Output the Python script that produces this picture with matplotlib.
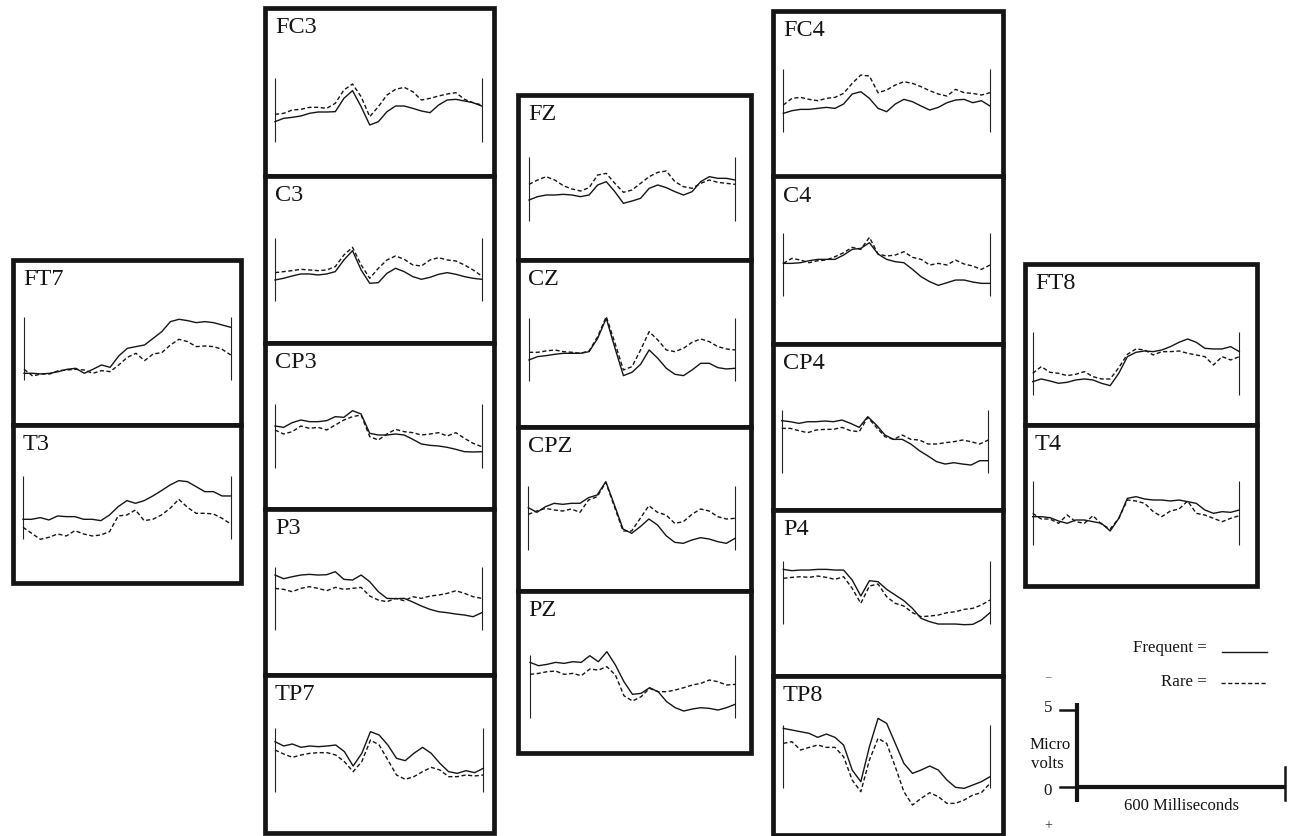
import matplotlib
matplotlib.use("Agg")
import matplotlib.pyplot as plt
from matplotlib.patches import Rectangle

# ---------------- data (µV, negative plotted upward => stored as "up" values) -------------
time_ms = list(range(0, 625, 25))

FT7_frequent = [-1.50, -1.50, -1.54, -1.50, -1.40, -1.26, -1.20, -1.50, -1.26, -1.00, -1.14, -0.46, 0.00, 0.10, 0.20, 0.60, 1.00, 1.60, 1.74, 1.66, 1.54, 1.60, 1.54, 1.40, 1.26]
FT7_rare     = [-1.26, -1.66, -1.54, -1.54, -1.34, -1.30, -1.26, -1.30, -1.50, -1.34, -1.40, -1.00, -0.54, -0.30, -0.74, -0.34, -0.26, 0.20, 0.54, 0.40, 0.10, 0.14, 0.10, -0.06, -0.40]
T3_frequent  = [-0.72, -0.72, -0.62, -0.76, -0.52, -0.56, -0.56, -0.72, -0.72, -0.80, -0.46, 0.04, 0.40, 0.24, 0.40, 0.68, 1.00, 1.34, 1.60, 1.54, 1.24, 0.94, 0.94, 0.68, 0.68]
T3_rare      = [-1.20, -1.56, -1.92, -1.80, -1.60, -1.72, -1.40, -1.60, -1.72, -1.66, -1.46, -0.52, -0.46, -0.16, -0.80, -0.72, -0.46, -0.06, 0.48, 0.00, -0.36, -0.36, -0.40, -0.66, -1.00]

FC3_frequent = [-0.70, -0.50, -0.44, -0.36, -0.20, -0.12, -0.12, -0.10, 0.70, 1.16, 0.20, -0.90, -0.70, -0.10, 0.24, 0.24, 0.10, -0.06, -0.16, 0.30, 0.60, 0.64, 0.54, 0.44, 0.24]
FC3_rare     = [-0.26, -0.20, 0.00, 0.04, 0.16, 0.16, 0.10, 0.40, 1.20, 1.56, 0.80, -0.40, 0.20, 0.90, 1.24, 1.36, 1.10, 0.60, 0.70, 0.84, 0.96, 1.04, 0.64, 0.44, 0.30]
C3_frequent  = [-0.64, -0.54, -0.40, -0.28, -0.28, -0.34, -0.28, -0.14, 0.56, 1.12, -0.04, -0.84, -0.80, -0.24, 0.06, -0.14, -0.44, -0.60, -0.48, -0.30, -0.20, -0.30, -0.44, -0.54, -0.60]
C3_rare      = [-0.20, -0.14, -0.08, 0.00, -0.04, -0.08, -0.04, 0.16, 0.86, 1.32, 0.26, -0.54, 0.06, 0.56, 0.80, 0.60, 0.26, 0.20, 0.56, 0.70, 0.56, 0.50, 0.26, -0.04, -0.40]
CP3_frequent = [0.60, 0.52, 0.80, 0.96, 0.86, 0.86, 0.92, 1.16, 1.12, 1.52, 1.32, 0.16, 0.06, 0.06, 0.12, 0.06, -0.20, -0.48, -0.56, -0.60, -0.68, -0.80, -0.94, -0.96, -0.94]
CP3_rare     = [0.36, 0.12, 0.26, 0.60, 0.46, 0.52, 0.36, 0.66, 0.96, 1.16, 1.26, -0.04, -0.24, 0.12, 0.40, 0.26, 0.20, 0.06, 0.12, 0.20, 0.00, 0.20, -0.14, -0.44, -0.64]
P3_frequent  = [1.42, 1.20, 1.32, 1.42, 1.46, 1.42, 1.44, 1.62, 1.16, 1.12, 1.42, 1.02, 0.42, 0.02, 0.00, 0.02, -0.20, -0.44, -0.64, -0.78, -0.84, -0.92, -0.98, -1.08, -0.84]
P3_rare      = [0.62, 0.56, 0.42, 0.62, 0.72, 0.62, 0.48, 0.68, 0.56, 0.62, 0.68, 0.16, -0.08, -0.18, 0.02, -0.12, 0.12, 0.02, 0.16, 0.22, 0.32, 0.48, 0.32, 0.12, 0.02]
TP7_frequent = [1.10, 0.84, 0.96, 0.76, 0.84, 0.80, 0.84, 0.90, 0.50, -0.36, 0.40, 1.70, 1.50, 0.90, 0.10, -0.04, 0.40, 0.76, 0.40, -0.20, -0.70, -0.80, -0.64, -0.76, -0.50]
TP7_rare     = [0.60, 0.36, 0.16, 0.30, 0.40, 0.44, 0.44, 0.30, -0.10, -0.70, -0.10, 1.20, 0.90, 0.00, -0.90, -1.16, -1.00, -0.70, -0.44, -0.60, -1.00, -1.00, -0.90, -0.96, -0.90]

FZ_frequent  = [-0.66, -0.46, -0.36, -0.36, -0.32, -0.36, -0.46, -0.36, 0.24, 0.44, -0.16, -0.86, -0.72, -0.56, 0.04, 0.24, 0.08, -0.16, -0.36, -0.16, 0.44, 0.74, 0.64, 0.64, 0.54]
FZ_rare      = [0.28, 0.54, 0.74, 0.54, 0.20, 0.00, -0.12, 0.08, 0.84, 0.94, 0.34, -0.20, -0.06, 0.34, 0.74, 1.00, 1.08, 0.44, 0.14, 0.04, 0.34, 0.54, 0.40, 0.34, 0.28]
CZ_frequent  = [-0.64, -0.44, -0.38, -0.30, -0.24, -0.24, -0.24, -0.14, 0.66, 1.86, 0.10, -1.58, -1.38, -0.90, -0.04, -0.54, -1.14, -1.50, -1.58, -1.24, -0.84, -0.84, -1.10, -1.18, -1.14]
CZ_rare      = [-0.18, -0.18, -0.10, -0.04, -0.14, -0.18, -0.24, -0.10, 0.76, 1.96, 0.40, -1.24, -1.04, -0.04, 1.06, 0.56, -0.04, -0.14, 0.06, 0.42, 0.62, 0.46, 0.16, 0.02, -0.04]
CPZ_frequent = [0.62, 0.34, 0.68, 0.88, 0.82, 0.88, 0.88, 1.22, 1.38, 2.18, 0.78, -0.66, -0.92, -0.52, -0.06, -0.42, -1.06, -1.46, -1.52, -1.32, -1.18, -1.26, -1.42, -1.52, -1.22]
CPZ_rare     = [0.22, 0.42, 0.58, 0.48, 0.42, 0.54, 0.34, 1.08, 1.28, 2.14, 0.68, -0.78, -0.78, -0.02, 0.74, 0.34, 0.18, -0.32, -0.22, 0.22, 0.54, 0.42, 0.08, -0.06, -0.02]
PZ_frequent  = [1.46, 1.26, 1.34, 1.46, 1.40, 1.50, 1.46, 1.86, 1.50, 2.10, 1.30, 0.30, -0.46, -0.40, -0.06, -0.30, -0.90, -1.26, -1.46, -1.34, -1.26, -1.30, -1.40, -1.26, -1.06]
PZ_rare      = [0.74, 0.80, 0.90, 0.94, 0.74, 0.80, 0.66, 1.06, 1.00, 1.20, 0.70, -0.54, -0.86, -0.60, -0.10, -0.30, -0.30, -0.20, -0.06, 0.10, 0.20, 0.40, 0.30, 0.10, 0.14]

FC4_frequent = [-0.76, -0.60, -0.52, -0.52, -0.46, -0.40, -0.46, -0.20, 0.40, 0.54, 0.14, -0.46, -0.66, -0.20, 0.08, -0.06, -0.32, -0.56, -0.40, -0.12, 0.04, 0.08, -0.12, 0.00, -0.32]
FC4_rare     = [-0.26, 0.14, 0.20, 0.08, 0.00, 0.14, 0.20, 0.44, 1.04, 1.54, 1.48, 0.48, 0.64, 0.94, 1.14, 1.04, 0.84, 0.60, 0.40, 0.28, 0.68, 0.48, 0.44, 0.34, 0.48]
C4_frequent  = [0.08, 0.08, 0.12, 0.24, 0.32, 0.32, 0.32, 0.58, 0.92, 0.98, 1.32, 0.64, 0.32, 0.18, 0.12, -0.28, -0.72, -1.02, -1.24, -1.08, -0.92, -0.92, -1.04, -1.12, -1.12]
C4_rare      = [0.08, 0.38, 0.28, 0.12, 0.24, 0.28, 0.48, 0.72, 1.04, 0.92, 1.64, 0.64, 0.52, 0.58, 0.78, 0.44, 0.32, -0.02, 0.08, -0.02, 0.28, 0.04, -0.08, -0.28, -0.02]
CP4_frequent = [1.26, 1.20, 1.10, 1.20, 1.20, 1.24, 1.20, 1.30, 1.10, 0.86, 1.50, 1.00, 0.40, 0.14, 0.14, -0.14, -0.54, -0.86, -1.20, -1.34, -1.26, -1.34, -1.40, -1.14, -1.14]
CP4_rare     = [0.80, 0.80, 0.66, 0.54, 0.70, 0.74, 0.74, 0.86, 0.66, 0.60, 1.46, 0.86, 0.30, 0.14, 0.40, 0.14, 0.10, -0.14, -0.14, -0.06, 0.00, 0.10, 0.00, -0.14, 0.10]
P4_frequent  = [1.40, 1.32, 1.36, 1.36, 1.40, 1.40, 1.36, 1.36, 0.76, -0.20, 0.72, 0.66, 0.20, -0.14, -0.48, -0.94, -1.54, -1.74, -1.88, -1.88, -1.88, -1.92, -1.90, -1.64, -1.20]
P4_rare      = [0.86, 0.92, 0.96, 0.92, 1.00, 0.92, 0.80, 0.96, 0.26, -0.64, 0.40, 0.52, -0.24, -0.64, -0.80, -1.20, -1.44, -1.40, -1.34, -1.20, -1.14, -1.00, -0.94, -0.74, -0.44]
TP8_frequent = [1.70, 1.60, 1.50, 1.40, 1.16, 1.36, 1.16, 0.70, -0.80, -1.50, 0.60, 2.30, 2.00, 0.80, -0.40, -1.00, -0.80, -0.56, -0.80, -1.40, -1.84, -1.90, -1.70, -1.50, -1.20]
TP8_rare     = [0.80, 0.90, 0.40, 0.56, 0.70, 0.56, 0.56, 0.00, -1.40, -2.10, -0.20, 1.10, 0.80, -0.60, -2.10, -2.90, -2.50, -2.16, -2.40, -2.80, -2.80, -2.60, -2.30, -2.16, -1.60]

FT8_frequent = [-1.10, -0.94, -1.06, -1.20, -1.14, -1.00, -0.94, -1.00, -1.20, -1.34, -0.60, 0.40, 0.66, 0.74, 0.70, 0.80, 1.00, 1.26, 1.46, 1.26, 0.90, 0.86, 0.86, 1.00, 0.70]
FT8_rare     = [-0.60, -0.20, -0.54, -0.60, -0.74, -0.66, -0.50, -0.80, -0.94, -0.94, -0.26, 0.54, 0.86, 0.80, 0.50, 0.70, 0.70, 0.74, 0.60, 0.50, 0.40, -0.10, 0.40, 0.20, 0.40]
T4_frequent  = [-0.22, -0.22, -0.28, -0.48, -0.62, -0.42, -0.42, -0.52, -0.62, -1.08, -0.32, 0.88, 0.98, 0.84, 0.78, 0.78, 0.72, 0.78, 0.68, 0.58, 0.18, -0.02, 0.08, 0.04, 0.18]
T4_rare      = [-0.02, -0.36, -0.36, -0.62, -0.12, -0.52, -0.62, -0.16, -0.68, -0.96, -0.32, 0.78, 0.72, 0.58, 0.08, -0.22, 0.12, 0.24, 0.72, -0.02, -0.12, -0.32, -0.52, -0.32, -0.16]

SERIES = {
    "FT7": (FT7_frequent, FT7_rare), "T3": (T3_frequent, T3_rare),
    "FC3": (FC3_frequent, FC3_rare), "C3": (C3_frequent, C3_rare),
    "CP3": (CP3_frequent, CP3_rare), "P3": (P3_frequent, P3_rare),
    "TP7": (TP7_frequent, TP7_rare),
    "FZ": (FZ_frequent, FZ_rare), "CZ": (CZ_frequent, CZ_rare),
    "CPZ": (CPZ_frequent, CPZ_rare), "PZ": (PZ_frequent, PZ_rare),
    "FC4": (FC4_frequent, FC4_rare), "C4": (C4_frequent, C4_rare),
    "CP4": (CP4_frequent, CP4_rare), "P4": (P4_frequent, P4_rare),
    "TP8": (TP8_frequent, TP8_rare),
    "FT8": (FT8_frequent, FT8_rare), "T4": (T4_frequent, T4_rare),
}

# ---------------- layout (pixels) ----------------
W, H, DPI = 1293, 836, 100
PX_PER_UV = 50.0 / 3.0
BAR_UV = 1.9
EPOCH_MS = 600

# name: (left, top, right, bottom, bar_left_x, bar_right_x, baseline_y)
LAYOUT = {
    "FT7": (12.5, 259.5, 240.5, 424.5, 24.0, 230.7, 348.3),
    "T3":  (12.5, 424.5, 240.5, 582.5, 23.0, 230.7, 507.3),
    "FC3": (264.5, 7.5, 494.5, 175.5, 275.0, 481.7, 110.0),
    "C3":  (264.5, 175.5, 494.5, 342.5, 275.0, 481.7, 269.3),
    "CP3": (264.5, 342.5, 494.5, 508.5, 275.0, 481.7, 436.0),
    "P3":  (264.5, 508.5, 494.5, 674.5, 275.0, 481.7, 598.7),
    "TP7": (264.5, 674.5, 494.5, 832.5, 275.0, 483.3, 760.0),
    "FZ":  (517.5, 94.5, 750.5, 260.0, 529.0, 735.0, 189.0),
    "CZ":  (517.5, 260.0, 750.5, 427.0, 529.0, 735.0, 349.3),
    "CPZ": (517.5, 427.0, 750.5, 590.5, 528.3, 735.0, 518.0),
    "PZ":  (517.5, 590.5, 750.5, 752.5, 530.0, 735.0, 686.7),
    "FC4": (772.5, 10.5, 1002.5, 176.5, 783.3, 990.0, 100.7),
    "C4":  (772.5, 176.5, 1002.5, 344.0, 783.3, 990.0, 264.7),
    "CP4": (772.5, 344.0, 1002.5, 509.5, 781.7, 988.3, 441.7),
    "P4":  (772.5, 509.5, 1002.5, 675.5, 783.3, 990.0, 592.7),
    "TP8": (772.5, 675.5, 1002.5, 834.5, 783.3, 990.0, 756.7),
    "FT8": (1024.5, 263.5, 1256.5, 424.5, 1032.7, 1239.3, 363.3),
    "T4":  (1024.5, 424.5, 1256.5, 585.5, 1032.7, 1239.3, 513.0),
}

SERIF = ["Liberation Serif", "DejaVu Serif"]
INK = "#151515"
FRAME_LW = 3.4
DASH = (0, (3.0, 1.8))

fig = plt.figure(figsize=(W / DPI, H / DPI), dpi=DPI)
fig.patch.set_facecolor("white")

# overlay axes in pixel coordinates for the legend / scale
ov = fig.add_axes([0, 0, 1, 1])
ov.set_xlim(0, W)
ov.set_ylim(H, 0)
ov.axis("off")
ov.patch.set_alpha(0)

for name, (L, T, R, B, xl, xr, yc) in LAYOUT.items():
    freq, rare = SERIES[name]
    ax = fig.add_axes([L / W, 1 - B / H, (R - L) / W, (B - T) / H])
    mpp = EPOCH_MS / (xr - xl)
    ax.set_xlim(-(xl - L) * mpp, EPOCH_MS + (R - xr) * mpp)
    ax.set_ylim(-(B - yc) / PX_PER_UV, (yc - T) / PX_PER_UV)
    ax.set_xticks([])
    ax.set_yticks([])
    for sp in ax.spines.values():
        sp.set_visible(False)
    ax.add_patch(Rectangle((0, 0), 1, 1, transform=ax.transAxes, fill=False,
                           lw=FRAME_LW, edgecolor=INK, joinstyle="miter",
                           clip_on=False, zorder=5))
    ax.vlines([0, EPOCH_MS], -BAR_UV, BAR_UV, colors="#222222", lw=0.8)
    ax.plot(time_ms, freq, color=INK, lw=1.0, solid_joinstyle="round")
    ax.plot(time_ms, rare, color=INK, lw=1.0, linestyle=DASH)
    ax.annotate(name, xy=(0, 1), xycoords="axes fraction",
                xytext=(7.5, -6.5), textcoords="offset points",
                ha="left", va="top", fontsize=17.5, family=SERIF, color=INK)

# ---------------- legend and calibration scale ----------------
LEG_FS = 12.2
ov.text(1207, 648, "Frequent =", ha="right", va="center", fontsize=LEG_FS,
        family=SERIF, color=INK)
ov.plot([1222, 1267], [652, 652], color=INK, lw=1.0)
ov.text(1207, 682, "Rare =", ha="right", va="center", fontsize=LEG_FS,
        family=SERIF, color=INK)
ov.plot([1221, 1266], [683, 683], color=INK, lw=1.0, linestyle=DASH)

SCALE_UV = 5
SCALE_MS = 600
ox, oy = 1077, 787
leg_px_uv = 15.4
leg_px_ms = 208.0 / 600.0
y5 = oy - SCALE_UV * leg_px_uv
xe = ox + SCALE_MS * leg_px_ms
ov.plot([ox, ox], [y5 - 7, oy + 15], color=INK, lw=3.0, solid_capstyle="butt")
ov.plot([ox, xe], [oy, oy], color=INK, lw=3.0, solid_capstyle="butt")
ov.plot([1060, ox], [y5, y5], color=INK, lw=1.8)
ov.plot([1060, ox], [oy, oy], color=INK, lw=1.8)
ov.plot([xe, xe], [oy - 20, oy + 13], color=INK, lw=1.8)
ov.text(1048, y5 - 2, f"{SCALE_UV}", ha="center", va="center", fontsize=LEG_FS,
        family=SERIF, color=INK)
ov.text(1048, oy + 4, "0", ha="center", va="center", fontsize=LEG_FS,
        family=SERIF, color=INK)
ov.text(1050, 745, "Micro", ha="center", va="center", fontsize=LEG_FS,
        family=SERIF, color=INK)
ov.text(1047, 764, "volts", ha="center", va="center", fontsize=LEG_FS,
        family=SERIF, color=INK)
ov.text(1048, 678, "\u2013", ha="center", va="center", fontsize=8,
        family=SERIF, color="#333333")
ov.text(1048, 826, "+", ha="center", va="center", fontsize=10,
        family=SERIF, color="#333333")
ov.text((ox + xe) / 2, 806, f"{SCALE_MS} Milliseconds", ha="center", va="center",
        fontsize=12.0, family=SERIF, color=INK)

fig.savefig("out.png", dpi=DPI, facecolor="white")
